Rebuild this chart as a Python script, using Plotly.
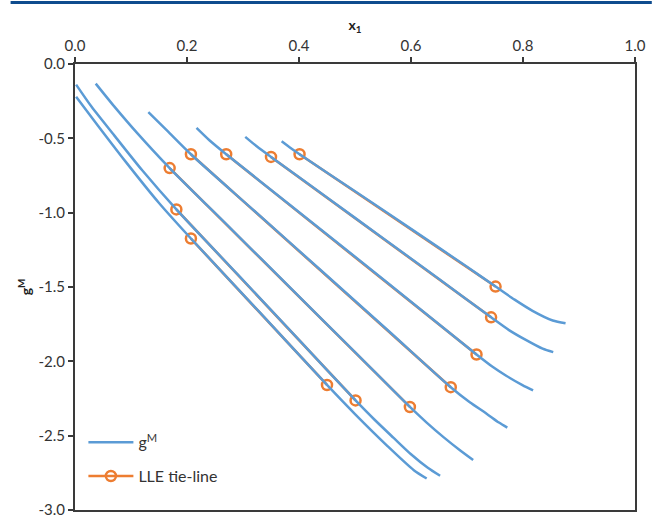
import plotly.graph_objects as go

# ---- tick labels ----
x_ticks = [0.0, 0.2, 0.4, 0.6, 0.8, 1.0]
x_ticklabels = ["0.0", "0.2", "0.4", "0.6", "0.8", "1.0"]
y_ticks = [0.0, -0.5, -1.0, -1.5, -2.0, -2.5, -3.0]
y_ticklabels = ["0.0", "-0.5", "-1.0", "-1.5", "-2.0", "-2.5", "-3.0"]

# ---- gM curves ----
c1_x = [0.369, 0.385, 0.401, 0.50, 0.60, 0.70, 0.751, 0.785, 0.817, 0.853, 0.876]
c1_y = [-0.520, -0.565, -0.607, -0.856, -1.109, -1.364, -1.497, -1.585, -1.660, -1.725, -1.744]

c2_x = [0.304, 0.325, 0.350, 0.45, 0.55, 0.65, 0.743, 0.775, 0.805, 0.835, 0.854]
c2_y = [-0.490, -0.555, -0.625, -0.898, -1.172, -1.446, -1.704, -1.790, -1.856, -1.915, -1.938]

c3_x = [0.217, 0.240, 0.270, 0.38, 0.50, 0.61, 0.717, 0.745, 0.770, 0.799, 0.818]
c3_y = [-0.430, -0.513, -0.607, -0.936, -1.297, -1.629, -1.954, -2.035, -2.097, -2.160, -2.196]

c4_x = [0.131, 0.165, 0.207, 0.32, 0.44, 0.56, 0.671, 0.705, 0.735, 0.757, 0.772]
c4_y = [-0.324, -0.450, -0.607, -0.987, -1.391, -1.796, -2.174, -2.275, -2.352, -2.412, -2.446]

c5_x = [0.037, 0.07, 0.11, 0.169, 0.28, 0.39, 0.50, 0.598, 0.628, 0.658, 0.688, 0.711]
c5_y = [-0.132, -0.285, -0.460, -0.700, -1.114, -1.526, -1.938, -2.307, -2.412, -2.510, -2.600, -2.664]

c6_x = [0.002, 0.03, 0.07, 0.12, 0.181, 0.29, 0.40, 0.501, 0.535, 0.569, 0.60, 0.630, 0.652]
c6_y = [-0.139, -0.290, -0.480, -0.715, -0.978, -1.414, -1.856, -2.263, -2.393, -2.515, -2.625, -2.716, -2.770]

c7_x = [0.002, 0.04, 0.09, 0.15, 0.207, 0.33, 0.450, 0.50, 0.558, 0.605, 0.628]
c7_y = [-0.220, -0.410, -0.655, -0.935, -1.174, -1.671, -2.159, -2.355, -2.570, -2.732, -2.788]

curves_x = [c1_x, c2_x, c3_x, c4_x, c5_x, c6_x, c7_x]
curves_y = [c1_y, c2_y, c3_y, c4_y, c5_y, c6_y, c7_y]

# ---- LLE tie-lines (end points) ----
tie_x1 = [0.401, 0.350, 0.270, 0.207, 0.169, 0.181, 0.207]
tie_y1 = [-0.607, -0.625, -0.607, -0.607, -0.700, -0.978, -1.174]
tie_x2 = [0.751, 0.743, 0.717, 0.671, 0.598, 0.501, 0.450]
tie_y2 = [-1.497, -1.704, -1.954, -2.174, -2.307, -2.263, -2.159]

BLUE = "#5B9BD5"
ORANGE = "#ED7D31"
AXIS = "#3A3A3A"
FONT = "Lato"

fig = go.Figure()

# orange tie-lines (drawn first, underneath)
for i in range(len(tie_x1)):
    fig.add_trace(go.Scatter(
        x=[tie_x1[i], tie_x2[i]], y=[tie_y1[i], tie_y2[i]],
        mode="lines+markers",
        line=dict(color=ORANGE, width=2.5),
        marker=dict(symbol="circle-open", size=10, color=ORANGE, line=dict(width=2.5, color=ORANGE)),
        name="LLE tie-line", legendgroup="lle", showlegend=(i == 0), legendrank=2,
    ))

# blue gM curves
for i in range(len(curves_x)):
    fig.add_trace(go.Scatter(
        x=curves_x[i], y=curves_y[i],
        mode="lines",
        line=dict(color=BLUE, width=2.5, shape="spline", smoothing=0.7),
        name="g<sup>M</sup>", legendgroup="gm", showlegend=(i == 0), legendrank=1,
    ))

axis_common = dict(
    showline=True, linecolor=AXIS, linewidth=2, mirror=True,
    ticks="outside", ticklen=5, tickwidth=1.5, tickcolor=AXIS,
    showgrid=False, zeroline=False,
    tickfont=dict(family=FONT, size=15, color="#333333"),
)

fig.update_layout(
    width=653, height=525,
    margin=dict(l=75, r=13, t=64, b=7),
    paper_bgcolor="white", plot_bgcolor="white",
    font=dict(family=FONT, color="#333333"),
    xaxis=dict(
        side="top", range=[0, 1], tickvals=x_ticks, ticktext=x_ticklabels,
        title=dict(text="<b>x<sub>1</sub></b>", font=dict(family=FONT, size=14, color="#222222"), standoff=2),
        **axis_common,
    ),
    yaxis=dict(
        range=[-3, 0], tickvals=y_ticks, ticktext=y_ticklabels,
        title=dict(text="<b>g<sup>M</sup></b>", font=dict(family=FONT, size=14, color="#222222"), standoff=4),
        **axis_common,
    ),
    legend=dict(
        x=0.015, y=0.19, xanchor="left", yanchor="top",
        font=dict(family=FONT, size=16, color="#333333"),
        bgcolor="rgba(0,0,0,0)", tracegroupgap=10,
        itemwidth=45,
    ),
    shapes=[dict(
        type="line", xref="paper", yref="paper",
        x0=-0.115, x1=1.03, y0=1.1377, y1=1.1377,
        line=dict(color="#0E4C8E", width=3),
    )],
)

fig.write_html("out.html")
